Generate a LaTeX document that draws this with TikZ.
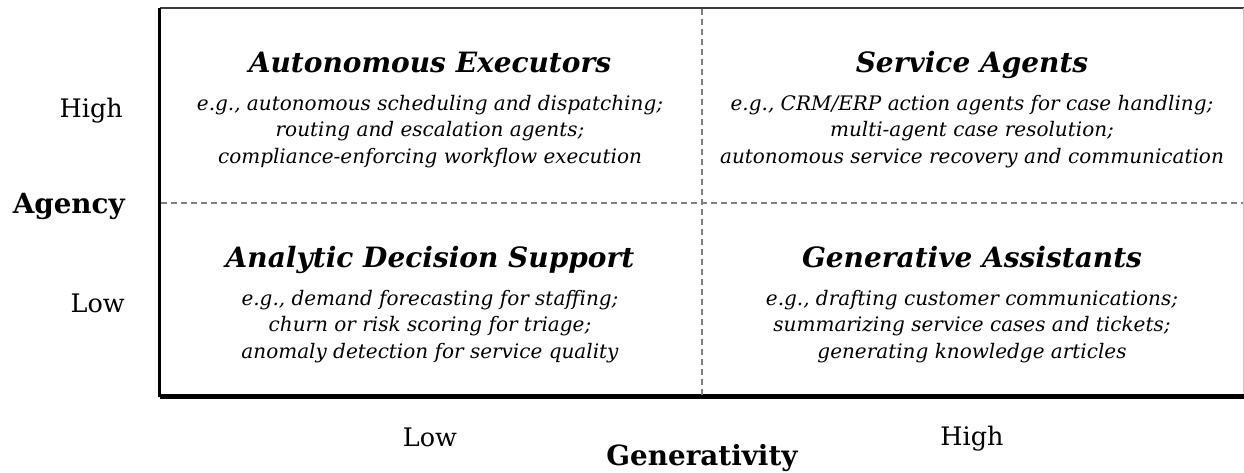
\documentclass[tikz,border=0pt]{standalone}
\usepackage{fontspec}
\setmainfont{DejaVu Serif}
\usetikzlibrary{positioning}

\definecolor{gridgray}{HTML}{808080}
\definecolor{framegray}{HTML}{3C3C3C}
\definecolor{edgegray}{HTML}{C8C8C8}

\begin{document}
\begin{tikzpicture}[x=1pt, y=-1pt,
  quadtitle/.style={anchor=base, inner sep=0pt, font=\fontsize{28}{32}\selectfont\bfseries\itshape},
  quadbody/.style={anchor=base, inner sep=0pt, align=center, font=\fontsize{20}{26.5}\selectfont\itshape},
  axislabel/.style={anchor=base, inner sep=0pt, font=\fontsize{25.5}{30}\selectfont},
  axisname/.style={anchor=base, inner sep=0pt, font=\fontsize{27.8}{30}\selectfont\bfseries},
  divider/.style={gridgray, line width=1.8pt, dash pattern=on 6pt off 4pt}]
  \useasboundingbox (0,0) rectangle (1244,472);

  % --- Frame ---
  \coordinate (nw) at (159.5,8);
  \coordinate (ne) at (1243.5,8);
  \coordinate (sw) at (159.5,396.5);
  \coordinate (se) at (1243.5,396.5);
  \draw[framegray, line width=2.5pt] (nw) -- (ne);
  \draw[edgegray, line width=1pt] (ne) -- (se);
  \draw[black, line width=3pt] (nw) -- (sw);
  \draw[black, line width=4.5pt] (sw) -- (se);

  % --- Dividers ---
  \coordinate (midtop) at (702,9);
  \coordinate (midbot) at (702,395);
  \coordinate (midleft) at (161,203);
  \coordinate (midright) at (1243,203);
  \draw[divider] (midtop) -- (midbot);
  \draw[divider] (midleft) -- (midright);

  % --- Quadrant: high agency, low generativity ---
  % (body nodes sit on the baseline of their last line)
  \node[quadtitle] (exectitle) at (430,72) {Autonomous Executors};
  \node[quadbody] (execbody) at (430,163) {e.g., autonomous scheduling and dispatching;\\
    routing and escalation agents;\\
    compliance-enforcing workflow execution};

  % --- Quadrant: high agency, high generativity ---
  \node[quadtitle] (servtitle) at (972,72) {Service Agents};
  \node[quadbody] (servbody) at (972,163) {e.g., CRM/ERP action agents for case handling;\\
    multi-agent case resolution;\\
    autonomous service recovery and communication};

  % --- Quadrant: low agency, low generativity ---
  \node[quadtitle] (analtitle) at (430,267) {Analytic Decision Support};
  \node[quadbody] (analbody) at (430,358) {e.g., demand forecasting for staffing;\\
    churn or risk scoring for triage;\\
    anomaly detection for service quality};

  % --- Quadrant: low agency, high generativity ---
  \node[quadtitle] (gentitle) at (972,267) {Generative Assistants};
  \node[quadbody] (genbody) at (972,358) {e.g., drafting customer communications;\\
    summarizing service cases and tickets;\\
    generating knowledge articles};

  % --- Agency axis ---
  \node[axislabel, anchor=base east] (agyhigh) at (123,117) {High};
  \node[axisname, anchor=base east] (agency) at (125,213) {Agency};
  \node[axislabel, anchor=base east] (agylow) at (125,312) {Low};

  % --- Generativity axis ---
  \node[axislabel] (genlow) at (430,446) {Low};
  \node[axislabel] (genhigh) at (972,445) {High};
  \node[axisname] (generativity) at (702,465) {Generativity};
\end{tikzpicture}
\end{document}
